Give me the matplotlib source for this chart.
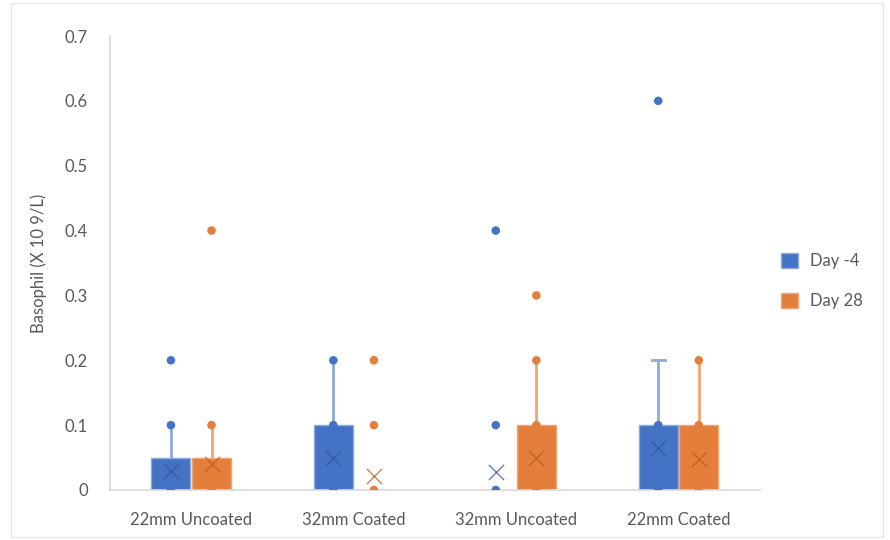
import matplotlib.pyplot as plt
import numpy as np

plt.rcParams['font.family'] = ['Lato', 'DejaVu Sans']

groups = ['22mm Uncoated', '32mm Coated', '32mm Uncoated', '22mm Coated']
series = ['Day -4', 'Day 28']
colors = ['#4472C4', '#E47E3C']
whisker_colors = ['#8EA9DB', '#EFA572']
mean_colors = ['#2F5597', '#B85A1C']

# box stats per series, one entry per group
q1 = [[0, 0, 0, 0], [0, 0, 0, 0]]
q3 = [[0.05, 0.1, 0, 0.1], [0.05, 0, 0.1, 0.1]]
whisk_hi = [[0.1, 0.2, 0, 0.2], [0.1, 0, 0.2, 0.2]]
means = [[0.03, 0.05, 0.028, 0.065], [0.04, 0.022, 0.05, 0.048]]
points = [
    [[0, 0.1, 0.2], [0, 0.1, 0.2], [0, 0.1, 0.4], [0, 0.1, 0.6]],
    [[0, 0.1, 0.4], [0, 0.1, 0.2], [0, 0.1, 0.2, 0.3], [0, 0.1, 0.2]],
]

fig = plt.figure(figsize=(8.9, 5.4), dpi=100)
ax = fig.add_axes([0.1236, 0.0926, 0.730, 0.8407])

x = np.arange(len(groups))
offsets = [-0.125, 0.125]
w = 0.24

for s in range(2):
    xs = x + offsets[s]
    for i in range(len(groups)):
        h = q3[s][i] - q1[s][i]
        if whisk_hi[s][i] > q3[s][i]:
            ax.plot([xs[i], xs[i]], [q3[s][i], whisk_hi[s][i]], color=whisker_colors[s], lw=2, zorder=1)
            if whisk_hi[s][i] not in points[s][i]:
                ax.plot([xs[i] - 0.04, xs[i] + 0.04], [whisk_hi[s][i]] * 2, color=whisker_colors[s], lw=2, zorder=1)
        if h > 0:
            ax.bar(xs[i], h, bottom=q1[s][i], width=w, color=colors[s],
                   edgecolor=whisker_colors[s], linewidth=1, zorder=2,
                   label=series[s] if i == 0 else None)
        ax.scatter([xs[i]] * len(points[s][i]), points[s][i], s=38, color=colors[s],
                   edgecolor='none', zorder=3)
        ax.scatter(xs[i], means[s][i], marker='x', s=120, color=mean_colors[s],
                   linewidths=1, alpha=0.75, zorder=4)

ax.set_xlim(-0.5, 3.5)
ax.set_ylim(0, 0.7)
ax.set_yticks(np.arange(0, 0.71, 0.1))
ax.set_yticklabels(['0'] + ['%.1f' % v for v in np.arange(0.1, 0.71, 0.1)])
ax.set_xticks(x)
ax.set_xticklabels(groups)
ax.tick_params(length=0, labelsize=12, colors='#595959')
ax.tick_params(axis='y', pad=16)
ax.tick_params(axis='x', pad=16)
for side in ['top', 'right']:
    ax.spines[side].set_visible(False)
for side in ['left', 'bottom']:
    ax.spines[side].set_color('#D9D9D9')
    ax.spines[side].set_linewidth(1.2)

ax.set_ylabel('Basophil (X 10 9/L)', fontsize=12, color='#595959', labelpad=13)

leg = ax.legend(loc='center left', bbox_to_anchor=(1.01, 0.46), frameon=False,
                fontsize=12, labelcolor='#595959', handlelength=1.0, handleheight=1.0,
                labelspacing=1.4, handletextpad=0.7)

fig.patches.append(plt.Rectangle((0.012, 0.005), 0.98, 0.99, transform=fig.transFigure,
                                 fill=False, edgecolor='#E6E6E6', lw=1))

fig.savefig('out.png', dpi=100)
